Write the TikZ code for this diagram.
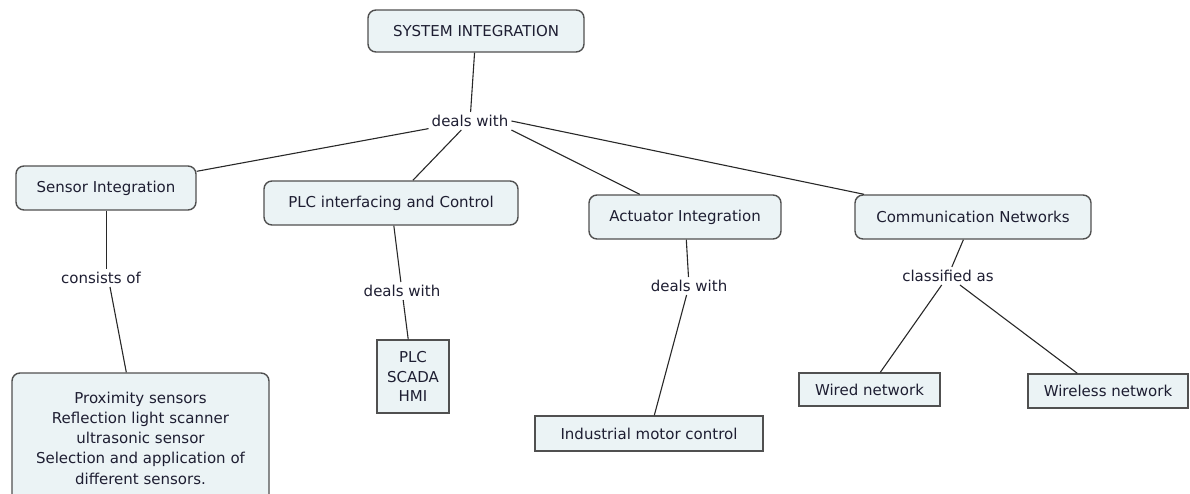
\documentclass[tikz,border=0pt]{standalone}
\usepackage{fontspec}
\setmainfont{DejaVu Sans}
\usetikzlibrary{calc}
\definecolor{boxfill}{RGB}{235,243,245}
\definecolor{boxline}{RGB}{80,80,80}
\definecolor{txt}{RGB}{30,30,50}
\definecolor{conn}{RGB}{40,40,40}
\tikzset{
  concept/.style={draw=boxline, fill=boxfill, line width=1.4pt, rounded corners=8pt, text=txt, inner sep=0pt, align=center},
  leaf/.style={draw=boxline, fill=boxfill, line width=1.4pt, text=txt, inner sep=0pt, align=center},
  linklabel/.style={text=txt, inner sep=3pt},
  conline/.style={draw=conn, line width=1.1pt}
}
\begin{document}
\begin{tikzpicture}[x=1pt,y=-1pt, font=\fontsize{15}{19}\selectfont]
\useasboundingbox (0,0) rectangle (1190,493);
% concepts
\node[concept, minimum width=216pt, minimum height=42pt] (sys) at (476,31) {SYSTEM INTEGRATION};
\node[concept, minimum width=180pt, minimum height=44pt] (sens) at (106,188) {Sensor Integration};
\node[concept, minimum width=254pt, minimum height=44pt] (plc) at (391,203) {PLC interfacing and Control};
\node[concept, minimum width=192pt, minimum height=44pt] (act) at (685,217) {Actuator Integration};
\node[concept, minimum width=236pt, minimum height=44pt] (comm) at (973,217) {Communication Networks};
\node[concept, minimum width=257pt, minimum height=130pt, font=\fontsize{15}{20.2}\selectfont] (prox) at (140.5,438)
  {Proximity sensors\\Reflection light scanner\\ultrasonic sensor\\Selection and application of\\different sensors.};
\node[leaf, minimum width=72pt, minimum height=73pt, font=\fontsize{15}{19.5}\selectfont] (plcbox) at (413,376.5) {PLC\\SCADA\\HMI};
\node[leaf, minimum width=228pt, minimum height=35pt] (motor) at (649,433.5) {Industrial motor control};
\node[leaf, minimum width=141pt, minimum height=33pt] (wired) at (869.5,389.5) {Wired network};
\node[leaf, minimum width=160pt, minimum height=34pt] (wireless) at (1108,391) {Wireless network};
% link labels
\node[linklabel] (l0) at (470,121) {deals with};
\node[linklabel] (l1) at (101,278) {consists of};
\node[linklabel] (l2) at (402,291) {deals with};
\node[linklabel] (l3) at (689,286) {deals with};
\node[linklabel] (l4) at (948,276) {classified as};
% connectors
\draw[conline] (sys) -- (l0);
\draw[conline] (l0) -- (sens);
\draw[conline] (l0) -- (plc);
\draw[conline] (l0.south east) -- (act);
\draw[conline] (l0.east) -- (comm);
\draw[conline] ($(sens.south)+(0.5,0)$) -- ($(l1.north -| sens.south)+(0.5,0)$);
\draw[conline] ($(l1.south)+(9,0)$) -- ($(prox.north west)+(115,0)$);
\draw[conline] (plc) -- (l2);
\draw[conline] (l2) -- (plcbox);
\draw[conline] (act) -- (l3);
\draw[conline] (l3) -- ($(motor.north west)+(120,0)$);
\draw[conline] (comm) -- (l4);
\draw[conline] (l4) -- ($(wired.north west)+(82,0)$);
\draw[conline] (l4) -- ($(wireless.north west)+(50,0)$);
\end{tikzpicture}
\end{document}
